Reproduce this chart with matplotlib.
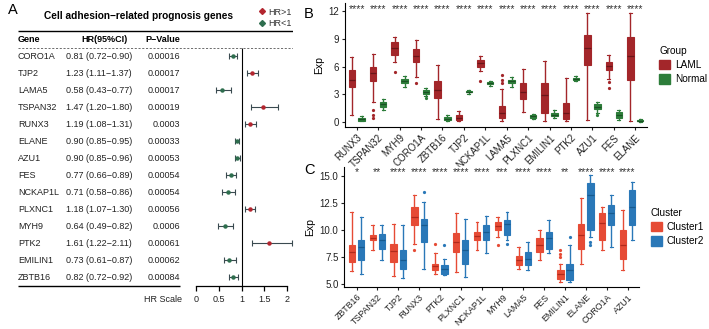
import matplotlib
matplotlib.use("Agg")
import matplotlib.pyplot as plt
import numpy as np
from matplotlib.patches import Patch
from matplotlib.lines import Line2D

plt.rcParams["font.family"] = ["Liberation Sans", "DejaVu Sans"]

# ---- panel A: cox table ----
genes_a = ["CORO1A", "TJP2", "LAMA5", "TSPAN32", "RUNX3", "ELANE", "AZU1",
           "FES", "NCKAP1L", "PLXNC1", "MYH9", "PTK2", "EMILIN1", "ZBTB16"]
hr = [0.81, 1.23, 0.58, 1.47, 1.19, 0.90, 0.90, 0.77, 0.71, 1.18, 0.64, 1.61, 0.73, 0.82]
hr_lo = [0.72, 1.11, 0.43, 1.20, 1.08, 0.85, 0.85, 0.66, 0.58, 1.07, 0.49, 1.22, 0.61, 0.72]
hr_hi = [0.90, 1.37, 0.77, 1.80, 1.31, 0.95, 0.96, 0.89, 0.86, 1.30, 0.82, 2.11, 0.87, 0.92]
pvals = ["0.00016", "0.00017", "0.00017", "0.00019", "0.0003", "0.00033", "0.00053",
         "0.00054", "0.00054", "0.00056", "0.0006", "0.00061", "0.00062", "0.00084"]
hr_ticks = [0, 0.5, 1, 1.5, 2]

# ---- panel B: LAML vs Normal (lo whisker, q1, median, q3, hi whisker) ----
genes_b = ["RUNX3", "TSPAN32", "MYH9", "CORO1A", "ZBTB16", "TJP2", "NCKAP1L",
           "LAMA5", "PLXNC1", "EMILIN1", "PTK2", "AZU1", "FES", "ELANE"]
laml_box = [(0.8, 3.8, 4.6, 5.6, 7.0), (2.2, 4.4, 5.3, 6.0, 7.4), (6.5, 7.3, 8.0, 8.7, 9.2),
            (4.9, 6.5, 7.2, 7.9, 8.9), (0.3, 2.6, 3.5, 4.4, 6.2), (0.05, 0.25, 0.45, 0.7, 1.2),
            (5.5, 6.0, 6.35, 6.7, 7.1), (0.05, 0.4, 0.95, 1.7, 3.6), (1.1, 2.5, 3.3, 4.2, 5.7),
            (0.1, 1.0, 2.9, 4.2, 6.6), (0.05, 0.3, 1.0, 2.0, 4.8), (0.2, 6.2, 8.0, 9.4, 11.8),
            (4.7, 5.65, 6.05, 6.5, 7.25), (0.05, 4.6, 7.1, 9.2, 11.8)]
laml_out = [[], [0.4, 0.8, 1.3], [5.4], [4.2], [], [], [4.4],
            [4.2, 4.6, 5.1], [], [], [], [], [3.7, 4.3], []]
normal_box = [(0.05, 0.15, 0.3, 0.45, 0.65), (1.3, 1.65, 1.9, 2.15, 2.45), (3.8, 4.2, 4.4, 4.65, 5.0),
              (2.8, 3.05, 3.25, 3.45, 3.65), (0.05, 0.2, 0.35, 0.55, 0.8), (3.05, 3.2, 3.3, 3.4, 3.5),
              (3.95, 4.1, 4.2, 4.3, 4.45), (3.8, 4.2, 4.4, 4.55, 4.85), (0.3, 0.45, 0.6, 0.75, 0.9),
              (0.4, 0.6, 0.8, 1.0, 1.3), (4.4, 4.5, 4.65, 4.8, 4.95), (1.0, 1.35, 1.6, 1.9, 2.2),
              (0.2, 0.45, 0.75, 1.05, 1.3), (0.02, 0.08, 0.15, 0.22, 0.3)]
normal_out = [[], [], [], [2.6], [], [], [], [], [], [], [], [0.8], [], []]
sig_b = ["****"] * 14

# ---- panel C: Cluster1 vs Cluster2 ----
genes_c = ["ZBTB16", "TSPAN32", "TJP2", "RUNX3", "PTK2", "PLXNC1", "NCKAP1L",
           "MYH9", "LAMA5", "FES", "EMILIN1", "ELANE", "CORO1A", "AZU1"]
c1_box = [(6.2, 7.0, 7.9, 8.6, 11.6), (8.1, 9.0, 9.25, 9.5, 10.4), (5.7, 7.0, 8.0, 8.7, 10.5),
          (8.7, 10.4, 11.2, 12.1, 13.2), (5.9, 6.25, 6.6, 6.85, 7.8), (6.1, 7.95, 8.85, 9.65, 11.5),
          (8.15, 9.0, 9.4, 9.8, 10.7), (9.35, 9.95, 10.35, 10.7, 11.2), (6.4, 6.7, 7.15, 7.6, 8.4),
          (7.2, 7.95, 8.55, 9.2, 9.95), (5.15, 5.45, 5.85, 6.25, 6.85), (6.85, 8.25, 9.5, 10.55, 12.9),
          (8.1, 9.0, 10.6, 11.5, 12.1), (6.3, 7.3, 8.55, 9.95, 11.85)]
c1_out = [[], [], [], [8.1], [8.7], [], [], [8.6], [], [], [7.5, 7.7, 8.1], [], [], []]
c2_box = [(5.9, 7.2, 8.35, 9.0, 11.2), (7.2, 8.25, 9.0, 9.6, 10.4), (5.55, 6.4, 7.2, 8.1, 10.4),
          (6.4, 8.9, 10.4, 11.0, 12.6), (5.8, 5.9, 6.4, 6.7, 7.3), (5.6, 6.85, 8.1, 9.0, 11.0),
          (7.8, 9.0, 9.8, 10.4, 11.3), (9.0, 9.5, 10.5, 10.9, 11.65), (6.25, 6.7, 7.3, 7.95, 8.85),
          (7.8, 8.25, 9.2, 9.8, 10.9), (5.15, 5.3, 6.25, 6.85, 8.55), (9.3, 9.95, 13.2, 14.3, 15.05),
          (8.4, 10.4, 11.5, 12.3, 13.2), (9.0, 10.4, 12.1, 13.7, 14.45)]
c2_out = [[], [], [], [13.5], [8.55], [], [], [8.7], [], [], [9.3], [8.6, 8.9], [], []]
sig_c = ["*", "**", "****", "****", "****", "****", "****",
         "***", "****", "****", "**", "****", "****", "****"]

RED_HR, GREEN_HR = "#B3262F", "#2E6E4E"
LAML, NORMAL = "#A3262A", "#2D7D3A"
CL1, CL2 = "#E64B35", "#2A78B8"

W, H = 709, 329
fig = plt.figure(figsize=(W / 100, H / 100), dpi=100)


def px_axes(left, top, right, bottom):
    return fig.add_axes([left / W, 1 - bottom / H, (right - left) / W, (bottom - top) / H])


# ===== A =====
axT = px_axes(18, 5, 293, 311)
axT.set_xlim(18, 293)
axT.set_ylim(15, -3)
axT.axis("off")

fs = 6.5
txt = "#222222"
axT.text(139, -2.35, "Cell adhesion\u2212related prognosis genes", ha="center", va="center",
         fontsize=7.3, fontweight="bold")
axT.hlines(-1.5, 18, 293, color="black", lw=1.0)
axT.hlines(-0.5, 18, 293, color="#555555", lw=0.6, linestyles=(0, (2.5, 2)))
axT.hlines(13.5, 18, 180, color="black", lw=1.0)
axT.text(18, -1, "Gene", va="center", fontsize=fs, fontweight="bold")
axT.text(128, -1, "HR(95%CI)", ha="right", va="center", fontsize=fs, fontweight="bold")
axT.text(180, -1, "P\u2212Value", ha="right", va="center", fontsize=fs, fontweight="bold")
for i, g in enumerate(genes_a):
    axT.text(18, i, g, va="center", fontsize=fs, color=txt)
    axT.text(66, i, f"{hr[i]:.2f} ({hr_lo[i]:.2f}\u2212{hr_hi[i]:.2f})", va="center",
             fontsize=fs, color=txt)
    axT.text(180, i, pvals[i], ha="right", va="center", fontsize=fs, color=txt)
axT.text(182, 14.35, "HR Scale", ha="right", va="center", fontsize=fs, color=txt)

axF = px_axes(196, 5, 293, 311)
axF.set_xlim(0, 97 / 45.5)
axF.set_ylim(15, -3)
axF.patch.set_visible(False)
for s in ["left", "right", "top"]:
    axF.spines[s].set_visible(False)
axF.spines["bottom"].set_position(("data", 13.5))
axF.spines["bottom"].set_bounds(0, 2)
axF.spines["bottom"].set_linewidth(0.9)
axF.set_yticks([])
axF.set_xticks(hr_ticks)
axF.set_xticklabels([f"{t:g}" for t in hr_ticks])
axF.tick_params(axis="x", length=3.5, width=0.9, labelsize=fs, pad=3.5, labelcolor=txt)
axF.vlines(1, -0.5, 13.5, color="black", lw=0.8)

hr_a = np.array(hr)
rows = np.arange(len(genes_a))
for mask, c in [(hr_a > 1, RED_HR), (hr_a <= 1, GREEN_HR)]:
    axF.errorbar(hr_a[mask], rows[mask],
                 xerr=[hr_a[mask] - np.array(hr_lo)[mask], np.array(hr_hi)[mask] - hr_a[mask]],
                 fmt="o", ms=2.2, mfc=c, mec=c, ecolor="#3A4A50", elinewidth=0.8,
                 capsize=2, capthick=0.8)

fig.legend(handles=[Line2D([], [], marker="D", ls="none", color=RED_HR, ms=3),
                    Line2D([], [], marker="D", ls="none", color=GREEN_HR, ms=3)],
           labels=["HR>1", "HR<1"], loc="upper right", bbox_to_anchor=(296 / W, 1 - 3 / H),
           fontsize=6.5, frameon=False, handletextpad=0.2, labelspacing=0.3,
           borderpad=0, handlelength=1.0, labelcolor="#333333")


# ===== B and C =====
def draw_boxes(ax, rows, outs, pos, color, med_color):
    stats = [dict(whislo=r[0], q1=r[1], med=r[2], q3=r[3], whishi=r[4], fliers=o)
             for r, o in zip(rows, outs)]
    ax.bxp(stats, positions=pos, widths=0.3, capwidths=0.14, patch_artist=True,
           boxprops=dict(facecolor=color, edgecolor=color, lw=0.8),
           whiskerprops=dict(color=color, lw=1.0), capprops=dict(color=color, lw=0.8),
           medianprops=dict(color=med_color, lw=0.9),
           flierprops=dict(marker="o", ms=1.3, mfc=color, mec=color, ls="none"),
           manage_ticks=False)


def style_axes(ax, genes, ylab, xfs):
    for s in ["right", "top"]:
        ax.spines[s].set_visible(False)
    for s in ["left", "bottom"]:
        ax.spines[s].set_linewidth(0.8)
    ax.set_xticks(np.arange(len(genes)))
    ax.set_xticklabels(genes, rotation=45, ha="right", rotation_mode="anchor")
    ax.tick_params(labelsize=7, length=2.5, width=0.8, pad=1.5, colors="#222222")
    ax.tick_params(axis="x", labelsize=xfs)
    ax.set_ylabel(ylab, fontsize=7.5, labelpad=3)


def group_legend(ax, labels, colors, title):
    ax.legend(handles=[Patch(fc=c, ec=c) for c in colors], labels=labels, title=title,
              loc="center left", bbox_to_anchor=(1.03, 0.5), frameon=False, fontsize=7.2,
              title_fontsize=7.2, handlelength=1.1, handleheight=1.1, alignment="left",
              handletextpad=0.5, borderpad=0, borderaxespad=0.3, labelspacing=0.4)


axB = px_axes(345, 3, 647, 127)
xb = np.arange(len(genes_b))
draw_boxes(axB, laml_box, laml_out, xb - 0.23, LAML, "#6A1518")
draw_boxes(axB, normal_box, normal_out, xb + 0.23, NORMAL, "#1B5124")
axB.set_xlim(-0.55, 13.55)
axB.set_ylim(-0.55, 12.9)
axB.set_yticks([0, 3, 6, 9, 12])
style_axes(axB, genes_b, "Exp", 7)
for i, s in enumerate(sig_b):
    axB.text(xb[i], 12.25, s, ha="center", va="center", fontsize=7.5, color="#333333")
group_legend(axB, ["LAML", "Normal"], [LAML, NORMAL], "Group")

axC = px_axes(344, 167, 639, 287)
xc = np.arange(len(genes_c))
draw_boxes(axC, c1_box, c1_out, xc - 0.22, CL1, "#B02A1C")
draw_boxes(axC, c2_box, c2_out, xc + 0.22, CL2, "#175A8F")
axC.set_xlim(-0.6, 13.55)
axC.set_ylim(4.69, 15.8)
axC.set_yticks([5, 7.5, 10, 12.5, 15])
axC.set_yticklabels(["5.0", "7.5", "10.0", "12.5", "15.0"])
style_axes(axC, genes_c, "Exp", 6.4)
for i, s in enumerate(sig_c):
    axC.text(xc[i], 15.3, s, ha="center", va="center", fontsize=7.5, color="#333333")
group_legend(axC, ["Cluster1", "Cluster2"], [CL1, CL2], "Cluster")

fig.text(8 / W, 1 - 10 / H, "A", fontsize=10.5, va="center")
fig.text(304 / W, 1 - 14 / H, "B", fontsize=10.5, va="center")
fig.text(304 / W, 1 - 170 / H, "C", fontsize=10.5, va="center")

fig.savefig("out.png", dpi=100)
